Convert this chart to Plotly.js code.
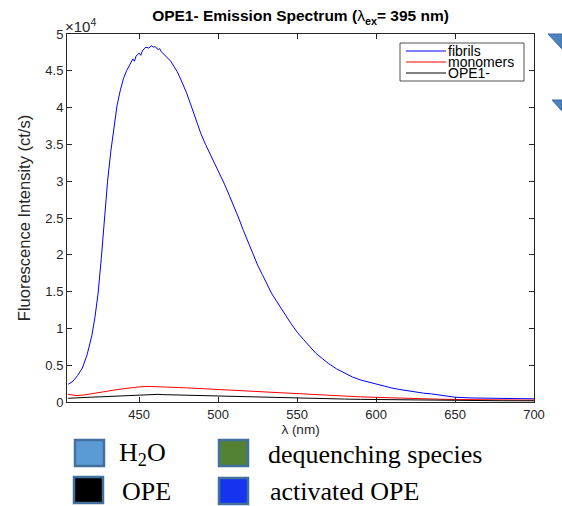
<!DOCTYPE html>
<html>
<head>
<meta charset="utf-8">
<script src="https://cdn.plot.ly/plotly-3.0.1.min.js"></script>
<style>html,body{margin:0;padding:0;background:#fff;} #chart{width:562px;height:506px;}</style>
</head>
<body>
<div id="chart"></div>
<script>
// ---- data ----
const seriesNames = ['fibrils', 'monomers', 'OPE1-'];
const seriesColors = ['#0000ff', '#ff0000', '#000000'];

const lambdaFibrils = [405,408,411,414,417,420,422,424,426,428,430,432,434,436,438,440,442,444,446,447,448,450,451,452,454,456,458,459,460,462,463,464,466,468,470,472,474,476,478,480,483,486,489,492,495,498,501,504,507,510,513,516,519,522,525,528,531,534,537,540,543,546,550,554,558,562,566,570,575,580,585,590,595,600,605,610,615,620,625,630,635,640,645,650,660,670,680,690,700];
const fibrils = [2400,2800,3600,4600,6400,9000,11500,14800,19500,24800,30000,34000,37500,40300,42300,43900,45000,45800,46600,46300,47000,47400,47100,47700,48200,48100,48400,48200,48300,47900,48000,47600,47200,46800,46300,45600,44900,44000,43100,42000,40200,38300,36500,35000,33700,32400,31000,29600,28100,26600,25000,23300,21700,20200,18600,17300,16000,14700,13700,12600,11700,10700,9500,8500,7500,6600,5900,5200,4500,3900,3400,3000,2700,2400,2100,1900,1700,1500,1350,1200,1100,950,800,650,550,500,470,450,430];

const lambdaMonomers = [405,410,415,420,425,430,435,440,445,450,455,460,465,470,475,480,485,490,495,500,510,520,530,540,550,560,570,580,590,600,610,620,630,640,650,660,670,680,690,700];
const monomers = [1050,880,950,1150,1350,1500,1650,1800,1950,2050,2120,2100,2050,2000,1970,1920,1860,1800,1750,1700,1580,1450,1320,1220,1120,1000,900,800,700,630,550,490,430,380,340,310,290,270,260,250];

const lambdaOPE = [405,410,415,420,425,430,435,440,445,450,455,458,460,462,465,470,475,480,485,490,495,500,510,520,530,540,550,560,570,580,590,600,620,640,660,680,700];
const ope = [500,520,580,660,700,750,800,850,900,950,1000,1080,1120,1040,1000,970,950,940,920,900,880,870,820,760,700,630,570,500,450,400,360,330,270,220,190,170,160];

const xTickVals = [450, 500, 550, 600, 650, 700];
const yTickVals = [0, 5000, 10000, 15000, 20000, 25000, 30000, 35000, 40000, 45000, 50000];
const yTickText = ['0', '0.5', '1', '1.5', '2', '2.5', '3', '3.5', '4', '4.5', '5'];

const keyLabels = ['H<sub>2</sub>O', 'dequenching species', 'OPE', 'activated OPE'];
const keyColors = ['#5b9bd5', '#548235', '#000000', '#1434f0'];

// ---- geometry helpers (pixel -> paper) ----
const W = 562, H = 506;
const M = {l: 67, r: 28, t: 34, b: 104};
const PW = W - M.l - M.r, PH = H - M.t - M.b;
const px = x => (x - M.l) / PW;
const py = y => (H - M.b - y) / PH;
const SANS = 'Liberation Sans, Arial, sans-serif';

const traces = [
  {x: lambdaFibrils, y: fibrils},
  {x: lambdaMonomers, y: monomers},
  {x: lambdaOPE, y: ope}
].map((t, i) => ({
  x: t.x, y: t.y, type: 'scatter', mode: 'lines', name: seriesNames[i],
  line: {color: seriesColors[i], width: 1}, showlegend: false
}));

const shapes = [];
const annotations = [];

// legend box (inside the axes, top right)
shapes.push({type: 'rect', xref: 'paper', yref: 'paper', x0: px(400), x1: px(524), y0: py(81), y1: py(43),
  line: {color: '#262626', width: 0.8}, fillcolor: '#ffffff'});
const rowY = [51, 62, 73];
seriesNames.forEach((n, i) => {
  shapes.push({type: 'line', xref: 'paper', yref: 'paper', x0: px(406), x1: px(446), y0: py(rowY[i]), y1: py(rowY[i]),
    line: {color: seriesColors[i], width: 1}});
  annotations.push({xref: 'paper', yref: 'paper', x: px(447), y: py(rowY[i]), xanchor: 'left', yanchor: 'middle',
    text: n, showarrow: false, borderpad: 0, font: {family: SANS, size: 14, color: '#000'}});
});

// exponent label
annotations.push({xref: 'paper', yref: 'paper', x: px(63), y: 1, xanchor: 'left', yanchor: 'bottom', yshift: -3,
  text: '×10<sup>4</sup>', showarrow: false, font: {family: SANS, size: 15, color: '#262626'}});

// decorative blue triangles on the right edge
shapes.push({type: 'path', xref: 'paper', yref: 'paper',
  path: `M ${px(548)} ${py(34)} L ${px(562)} ${py(34)} L ${px(562)} ${py(49)} Z`,
  fillcolor: '#4f81bd', line: {color: '#3a6aa3', width: 1}});
shapes.push({type: 'path', xref: 'paper', yref: 'paper',
  path: `M ${px(552)} ${py(100)} L ${px(562)} ${py(100)} L ${px(562)} ${py(111)} Z`,
  fillcolor: '#4f81bd', line: {color: '#3a6aa3', width: 1}});

// bottom key
const keyPos = [
  {sx: 75, sy: 440, tx: 117, ty: 454},
  {sx: 219, sy: 440, tx: 266, ty: 454},
  {sx: 74, sy: 477, tx: 120, ty: 491},
  {sx: 219, sy: 478, tx: 268, ty: 491}
];
keyLabels.forEach((lab, i) => {
  const p = keyPos[i];
  shapes.push({type: 'rect', xref: 'paper', yref: 'paper', x0: px(p.sx), x1: px(p.sx + 29), y0: py(p.sy + 26), y1: py(p.sy),
    fillcolor: keyColors[i], line: {color: '#41719c', width: 2.5}});
  annotations.push({xref: 'paper', yref: 'paper', x: px(p.tx), y: py(p.ty), xanchor: 'left', yanchor: 'middle',
    text: lab, showarrow: false, font: {family: 'Liberation Serif, Times New Roman, serif', size: 26, color: '#000'}});
});

const axisCommon = {
  showline: true, linecolor: '#262626', linewidth: 1, mirror: 'ticks',
  ticks: 'inside', ticklen: 5, tickwidth: 1, tickcolor: '#262626',
  showgrid: false, zeroline: false,
  tickfont: {family: SANS, size: 13, color: '#262626'}
};

const layout = {
  width: W, height: H, margin: M,
  paper_bgcolor: '#fff', plot_bgcolor: '#fff',
  showlegend: false,
  title: {
    text: '<b>OPE1- Emission Spectrum (</b>λ<b><sub>ex</sub>= 395 nm)</b>',
    font: {family: SANS, size: 15.5, color: '#000'},
    x: px(300.5), xanchor: 'center', xref: 'paper', y: 1 - 16 / H, yref: 'container', yanchor: 'middle'
  },
  xaxis: Object.assign({}, axisCommon, {
    range: [404.3, 700], tickvals: xTickVals, ticktext: xTickVals.map(String),
    title: {text: 'λ (nm)', standoff: 2, font: {family: SANS, size: 13.5, color: '#262626'}}
  }),
  yaxis: Object.assign({}, axisCommon, {
    range: [0, 50000], tickvals: yTickVals, ticktext: yTickText,
    title: {text: 'Fluorescence Intensity (ct/s)', standoff: 10, font: {family: SANS, size: 16.5, color: '#262626'}}
  }),
  shapes: shapes,
  annotations: annotations
};

Plotly.newPlot('chart', traces, layout, {displayModeBar: false, staticPlot: true});
</script>
</body>
</html>
